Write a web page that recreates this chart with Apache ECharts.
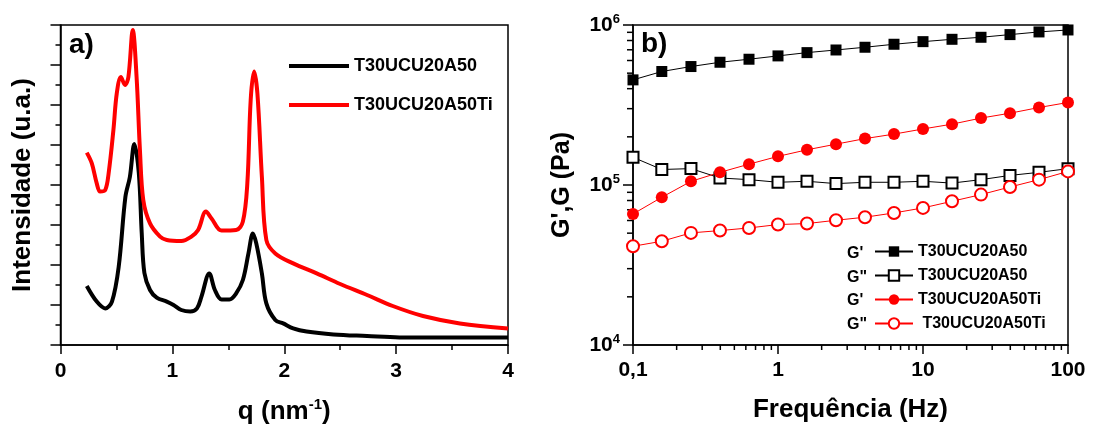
<!DOCTYPE html>
<html>
<head>
<meta charset="utf-8">
<script src="https://cdn.jsdelivr.net/npm/echarts@6/dist/echarts.min.js"></script>
<style>
  html, body { margin: 0; padding: 0; background: #fff; }
  #chartBox { width: 1105px; height: 437px; }
</style>
</head>
<body>
<div id="chartBox"></div>
<script>
// a) intensidade vs q
var qBlack = [0.235, 0.324, 0.40, 0.46, 0.52, 0.58, 0.62, 0.66, 0.70, 0.726, 0.75, 0.80, 0.86, 0.95, 1.01, 1.08, 1.16, 1.22, 1.26, 1.33, 1.38, 1.44, 1.51, 1.57, 1.63, 1.68, 1.72, 1.75, 1.80, 1.84, 1.92, 1.99, 2.08, 2.2, 2.44, 2.74, 3.03, 3.48, 4.0];
var iBlack = [2.95, 2.17, 1.83, 2.17, 3.9, 7.4, 8.4, 10.05, 8.6, 5.6, 3.6, 2.75, 2.37, 2.17, 2.0, 1.75, 1.67, 1.83, 2.42, 3.58, 2.75, 2.28, 2.28, 2.58, 3.25, 4.58, 5.58, 5.08, 3.58, 2.08, 1.25, 1.08, 0.83, 0.67, 0.53, 0.45, 0.38, 0.37, 0.38];
var qRed = [0.235, 0.28, 0.324, 0.354, 0.40, 0.43, 0.473, 0.503, 0.54, 0.577, 0.607, 0.646, 0.68, 0.71, 0.74, 0.80, 0.89, 0.95, 1.08, 1.17, 1.23, 1.30, 1.35, 1.44, 1.57, 1.63, 1.67, 1.70, 1.73, 1.76, 1.80, 1.84, 1.92, 2.08, 2.29, 2.50, 2.74, 2.97, 3.24, 3.57, 4.0];
var iRed = [9.62, 9.08, 8.08, 7.67, 7.75, 8.58, 10.75, 12.58, 13.4, 13.0, 13.4, 15.75, 13.4, 9.75, 7.25, 6.08, 5.42, 5.25, 5.2, 5.42, 5.75, 6.67, 6.33, 5.72, 5.75, 6.17, 8.08, 12.25, 13.67, 12.58, 8.42, 5.25, 4.58, 4.08, 3.58, 3.05, 2.5, 1.95, 1.45, 1.08, 0.83];

// b) G', G" vs frequencia
var freq = [0.1, 0.158, 0.251, 0.398, 0.631, 1, 1.585, 2.512, 3.981, 6.31, 10, 15.85, 25.12, 39.81, 63.1, 100];
var gpA50 = [454000, 512000, 550000, 585000, 611000, 641000, 672000, 698000, 726000, 758000, 787000, 814000, 838000, 871000, 905000, 931000];
var gppA50 = [149000, 125000, 126600, 110600, 108000, 104000, 105500, 102000, 104000, 104000, 105500, 102800, 108000, 114800, 120000, 126500];
var gpA50Ti = [65900, 83800, 105400, 120000, 135000, 151000, 166000, 180000, 195000, 208000, 224000, 240000, 262000, 281000, 305000, 328000];
var gppA50Ti = [41400, 44500, 50200, 51900, 53900, 56600, 57400, 60200, 62900, 66900, 71900, 79100, 87100, 97200, 108000, 121600];

var nameA50 = 'T30UCU20A50';
var nameA50Ti = 'T30UCU20A50Ti';

var FONT = 'Liberation Sans, Arial, sans-serif';

function pairs(xs, ys) {
	var out = [];
	for (var i = 0; i < xs.length; i++) out.push([xs[i], ys[i]]);
	return out;
}

// minor ticks for the log axes (2..9 per decade)
var minorX = [], minorY = [];
[0.1, 1, 10].forEach(function(d) {
	for (var k = 2; k <= 9; k++) minorX.push([+(d * k).toPrecision(3), 1e4]);
});
[1e4, 1e5].forEach(function(d) {
	for (var k = 2; k <= 9; k++) minorY.push([0.1, d * k]);
});

var myChart = echarts.init(document.getElementById('chartBox'));

var axisLineStyle = { color: '#000', width: 1.5 };

var option = {
	animation: false,
	textStyle: { fontFamily: FONT },
	grid: [
		{ left: 60.5, top: 25, width: 447.5, height: 320, show: true, borderColor: '#000', borderWidth: 1.5 },
		{ left: 633, top: 25, width: 435, height: 320, show: true, borderColor: '#000', borderWidth: 1.5 }
	],
	xAxis: [{
		gridIndex: 0,
		type: 'value',
		min: 0, max: 4, interval: 1,
		name: '{a|q (nm}{s|-1}{a|)}',
		nameLocation: 'middle',
		nameGap: 52,
		nameTextStyle: {
			rich: {
				a: { fontSize: 26, fontWeight: 'bold', fontFamily: FONT, color: '#000' },
				s: { fontSize: 15, fontWeight: 'bold', fontFamily: FONT, color: '#000', padding: [0, 0, 14, 0] }
			}
		},
		axisLine: { onZero: false, lineStyle: axisLineStyle },
		axisTick: { length: 9, lineStyle: axisLineStyle },
		minorTick: { show: true, splitNumber: 2, length: 5, lineStyle: { color: '#000', width: 1.5 } },
		splitLine: { show: false },
		axisLabel: { fontSize: 21, fontWeight: 'bold', color: '#000', margin: 16, fontFamily: FONT }
	}, {
		gridIndex: 1,
		type: 'log',
		logBase: 10,
		min: 0.1, max: 100,
		name: 'Frequência (Hz)',
		nameLocation: 'middle',
		nameGap: 52,
		nameTextStyle: { fontSize: 26, fontWeight: 'bold', color: '#000', fontFamily: FONT },
		axisLine: { onZero: false, lineStyle: axisLineStyle },
		axisTick: { length: 9, lineStyle: axisLineStyle },
		splitLine: { show: false },
		axisLabel: {
			fontSize: 21, fontWeight: 'bold', color: '#000', margin: 15, fontFamily: FONT,
			formatter: function(v) { return String(+v.toPrecision(3)).replace('.', ','); }
		}
	}],
	yAxis: [{
		gridIndex: 0,
		type: 'value',
		min: 0, max: 16, interval: 2,
		name: 'Intensidade (u.a.)',
		nameLocation: 'middle',
		nameGap: 25,
		nameTextStyle: { fontSize: 26, fontWeight: 'bold', color: '#000', fontFamily: FONT },
		axisLine: { onZero: false, lineStyle: axisLineStyle },
		axisTick: { length: 10, lineStyle: axisLineStyle },
		minorTick: { show: true, splitNumber: 2, length: 5, lineStyle: { color: '#000', width: 1.5 } },
		splitLine: { show: false },
		axisLabel: { show: false }
	}, {
		gridIndex: 1,
		type: 'log',
		logBase: 10,
		min: 1e4, max: 1e6,
		name: 'G\',G (Pa)',
		nameLocation: 'middle',
		nameGap: 58,
		nameTextStyle: { fontSize: 25, fontWeight: 'bold', color: '#000', fontFamily: FONT },
		axisLine: { onZero: false, lineStyle: axisLineStyle },
		axisTick: { length: 10, lineStyle: axisLineStyle },
		splitLine: { show: false },
		axisLabel: {
			margin: 13,
			formatter: function(v) { return '{b|10}{s|' + Math.round(Math.log10(v)) + '}'; },
			rich: {
				b: { fontSize: 21, fontWeight: 'bold', color: '#000', fontFamily: FONT },
				s: { fontSize: 13, fontWeight: 'bold', color: '#000', fontFamily: FONT, padding: [0, 0, 12, 0] }
			}
		}
	}],
	legend: [{
		data: [nameA50, nameA50Ti],
		orient: 'vertical',
		left: 284, top: 50,
		icon: 'rect',
		itemWidth: 60, itemHeight: 4,
		itemGap: 17,
		textStyle: { fontSize: 18, fontWeight: 'bold', color: '#000', fontFamily: FONT, lineHeight: 22 },
		selectedMode: false
	}, {
		data: ['G1', 'G2', 'G3', 'G4'],
		orient: 'vertical',
		left: 869, top: 237,
		itemWidth: 38, itemHeight: 13,
		itemGap: 5,
		textStyle: { fontSize: 16, fontWeight: 'bold', color: '#000', fontFamily: FONT, lineHeight: 19 },
		formatter: function(n) {
			return { G1: nameA50, G2: nameA50, G3: nameA50Ti, G4: ' ' + nameA50Ti }[n];
		},
		selectedMode: false
	}],
	graphic: [
		{ type: 'text', left: 69, top: 31, style: { text: 'a)', font: 'bold 28px ' + FONT, fill: '#000' } },
		{ type: 'text', left: 641, top: 30, style: { text: 'b)', font: 'bold 28px ' + FONT, fill: '#000' } },
		{ type: 'text', left: 847, top: 246, style: { text: 'G\'', font: 'bold 16px ' + FONT, fill: '#000' } },
		{ type: 'text', left: 847, top: 270, style: { text: 'G"', font: 'bold 16px ' + FONT, fill: '#000' } },
		{ type: 'text', left: 847, top: 293, style: { text: 'G\'', font: 'bold 16px ' + FONT, fill: '#000' } },
		{ type: 'text', left: 847, top: 317, style: { text: 'G"', font: 'bold 16px ' + FONT, fill: '#000' } }
	],
	series: [{
		name: nameA50,
		type: 'line',
		xAxisIndex: 0, yAxisIndex: 0,
		data: pairs(qBlack, iBlack),
		showSymbol: false,
		smooth: 0.35,
		color: '#000',
		lineStyle: { width: 4, color: '#000', join: 'round' }
	}, {
		name: nameA50Ti,
		type: 'line',
		xAxisIndex: 0, yAxisIndex: 0,
		data: pairs(qRed, iRed),
		showSymbol: false,
		smooth: 0.35,
		color: '#ff0000',
		lineStyle: { width: 4, color: '#ff0000', join: 'round' }
	}, {
		name: 'G1',
		type: 'line',
		xAxisIndex: 1, yAxisIndex: 1,
		data: pairs(freq, gpA50),
		symbol: 'rect', symbolSize: 11,
		color: '#000',
		lineStyle: { width: 1, color: '#000' },
		itemStyle: { color: '#000' }
	}, {
		name: 'G2',
		type: 'line',
		xAxisIndex: 1, yAxisIndex: 1,
		data: pairs(freq, gppA50),
		symbol: 'emptyRect', symbolSize: 11,
		color: '#000',
		lineStyle: { width: 1, color: '#000' },
		itemStyle: { color: '#000', borderWidth: 1.2 }
	}, {
		name: 'G3',
		type: 'line',
		xAxisIndex: 1, yAxisIndex: 1,
		data: pairs(freq, gpA50Ti),
		symbol: 'circle', symbolSize: 12,
		color: '#ff0000',
		lineStyle: { width: 1, color: '#ff0000' },
		itemStyle: { color: '#ff0000' }
	}, {
		name: 'G4',
		type: 'line',
		xAxisIndex: 1, yAxisIndex: 1,
		data: pairs(freq, gppA50Ti),
		symbol: 'emptyCircle', symbolSize: 12,
		color: '#ff0000',
		lineStyle: { width: 1, color: '#ff0000' },
		itemStyle: { color: '#ff0000', borderWidth: 1.2 }
	}, {
		// minor ticks, x log axis
		type: 'custom',
		xAxisIndex: 1, yAxisIndex: 1,
		silent: true,
		data: minorX,
		renderItem: function(params, api) {
			var p = api.coord([api.value(0), api.value(1)]);
			return { type: 'line', shape: { x1: p[0], y1: p[1], x2: p[0], y2: p[1] + 5 }, style: { stroke: '#000', lineWidth: 1.5 } };
		}
	}, {
		// minor ticks, y log axis
		type: 'custom',
		xAxisIndex: 1, yAxisIndex: 1,
		silent: true,
		data: minorY,
		renderItem: function(params, api) {
			var p = api.coord([api.value(0), api.value(1)]);
			return { type: 'line', shape: { x1: p[0], y1: p[1], x2: p[0] - 6, y2: p[1] }, style: { stroke: '#000', lineWidth: 1.5 } };
		}
	}]
};
myChart.setOption(option);
</script>
</body>
</html>
